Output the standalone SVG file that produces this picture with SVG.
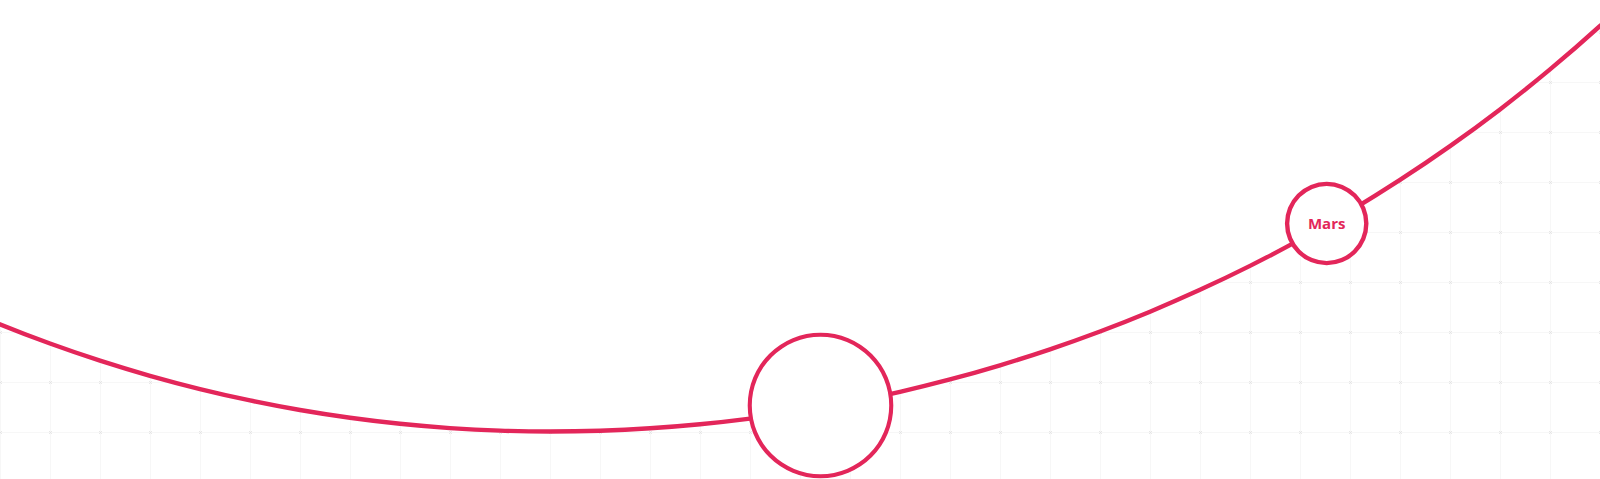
<svg xmlns="http://www.w3.org/2000/svg" width="1600" height="479" viewBox="0 0 1600 479" shape-rendering="geometricPrecision">
  <defs>
    <style>
      .orbit { fill: none; stroke: #E3265A; stroke-width: 4.4; stroke-linejoin: round; }
      .disc { fill: #ffffff; }
      .ring { fill: #E3265A; fill-rule: evenodd; }
      .label { font-family: "Open Sans", "Liberation Sans", sans-serif; font-weight: 700; font-size: 15px; fill: #E3265A; text-anchor: middle; }
      .gridline { stroke: #f7f7f7; stroke-width: 1; }
      .gridmark { stroke: #e2e2e2; stroke-width: 0.8; }
    </style>
    <pattern id="grid" patternUnits="userSpaceOnUse" x="-25" y="7" width="50" height="50">
      <line class="gridline" x1="0" y1="25.5" x2="50" y2="25.5"/>
      <line class="gridline" x1="25.5" y1="0" x2="25.5" y2="50"/>
      <path class="gridmark" d="M24 24 L27 27 M27 24 L24 27"/>
    </pattern>
  </defs>

  <g id="background">
    <rect x="0" y="0" width="1600" height="479" fill="#ffffff"/>
    <rect x="0" y="0" width="1600" height="479" fill="url(#grid)"/>
    <path fill="#ffffff" d="M-20 316.06 A1465 1465 0 0 0 50 343.54 A1465 1465 0 0 0 100 360.68 A1465 1465 0 0 0 150 375.83 A1465 1465 0 0 0 200 389.08 A1465 1465 0 0 0 250 400.46 A1465 1465 0 0 0 300 410.01 A1465 1465 0 0 0 350 417.78 A1465 1465 0 0 0 400 423.8 A1465 1465 0 0 0 450 428.08 A1465 1465 0 0 0 500 430.65 A1465 1465 0 0 0 550 431.5 A1562 1562 0 0 0 600 430.7 A1562 1562 0 0 0 650 428.3 A1562 1562 0 0 0 700 424.28 A1562 1562 0 0 0 750 418.64 A1562 1562 0 0 0 800 411.36 A1562 1562 0 0 0 850 402.42 A1562 1562 0 0 0 900 391.78 A1562 1562 0 0 0 950 379.42 A1562 1562 0 0 0 1000 365.28 A1562 1562 0 0 0 1050 349.31 A1562 1562 0 0 0 1100 331.47 A1562 1562 0 0 0 1150 311.67 A1562 1562 0 0 0 1200 289.83 A1562 1562 0 0 0 1250 265.88 A1562 1562 0 0 0 1300 239.66 A1562 1562 0 0 0 1350 211.08 A1562 1562 0 0 0 1400 179.97 A1562 1562 0 0 0 1450 146.15 A1562 1562 0 0 0 1500 109.4 A1562 1562 0 0 0 1550 69.43 A1562 1562 0 0 0 1600 25.94 A1562 1562 0 0 0 1620 7.45 L1620 -20 L-20 -20 Z"/>
  </g>

  <g id="connectors">
    <path class="orbit" d="M-20 316.06 A1465 1465 0 0 0 50 343.54 A1465 1465 0 0 0 100 360.68 A1465 1465 0 0 0 150 375.83 A1465 1465 0 0 0 200 389.08 A1465 1465 0 0 0 250 400.46 A1465 1465 0 0 0 300 410.01 A1465 1465 0 0 0 350 417.78 A1465 1465 0 0 0 400 423.8 A1465 1465 0 0 0 450 428.08 A1465 1465 0 0 0 500 430.65 A1465 1465 0 0 0 550 431.5 A1562 1562 0 0 0 600 430.7 A1562 1562 0 0 0 650 428.3 A1562 1562 0 0 0 700 424.28 A1562 1562 0 0 0 750 418.64 A1562 1562 0 0 0 800 411.36 A1562 1562 0 0 0 850 402.42 A1562 1562 0 0 0 900 391.78 A1562 1562 0 0 0 950 379.42 A1562 1562 0 0 0 1000 365.28 A1562 1562 0 0 0 1050 349.31 A1562 1562 0 0 0 1100 331.47 A1562 1562 0 0 0 1150 311.67 A1562 1562 0 0 0 1200 289.83 A1562 1562 0 0 0 1250 265.88 A1562 1562 0 0 0 1300 239.66 A1562 1562 0 0 0 1350 211.08 A1562 1562 0 0 0 1400 179.97 A1562 1562 0 0 0 1450 146.15 A1562 1562 0 0 0 1500 109.4 A1562 1562 0 0 0 1550 69.43 A1562 1562 0 0 0 1600 25.94 A1562 1562 0 0 0 1620 7.45"/>
  </g>

  <g id="node-earth">
    <circle class="disc" cx="820.5" cy="405.5" r="71"/>
    <path class="ring" d="M893.3 405.5 A72.8 72.8 0 1 1 747.7 405.5 A72.8 72.8 0 1 1 893.3 405.5 Z M889.2 405.5 A68.7 68.7 0 1 0 751.8 405.5 A68.7 68.7 0 1 0 889.2 405.5 Z"/>
  </g>

  <g id="node-mars">
    <circle class="disc" cx="1326.7" cy="223.5" r="39.5"/>
    <path class="ring" d="M1368.5 223.5 A41.8 41.8 0 1 1 1284.9 223.5 A41.8 41.8 0 1 1 1368.5 223.5 Z M1364.1 223.5 A37.4 37.4 0 1 0 1289.3 223.5 A37.4 37.4 0 1 0 1364.1 223.5 Z"/>
    <text class="label" x="1326.7" y="228.8">Mars</text>
  </g>
</svg>
